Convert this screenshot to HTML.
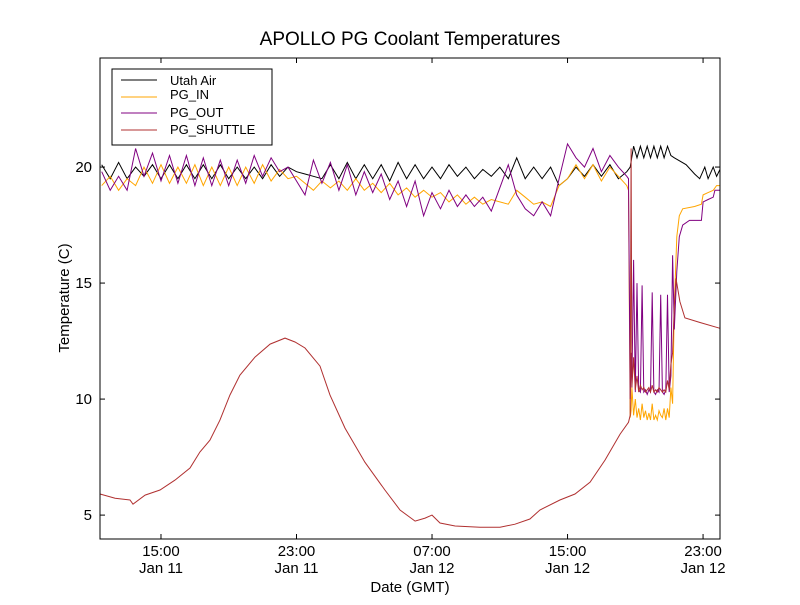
<!DOCTYPE html>
<html><head><meta charset="utf-8"><style>
body{margin:0;background:#fff;}
svg text{font-family:"Liberation Sans","DejaVu Sans",sans-serif;}
</style></head><body>
<svg id="chart" width="800" height="600" xmlns="http://www.w3.org/2000/svg">
<rect width="800" height="600" fill="#fff"/>
<text x="410" y="45" font-size="19" text-anchor="middle">APOLLO PG Coolant Temperatures</text>
<g id="plot"></g>
<rect x="100" y="58" width="620" height="481" fill="none" stroke="#000" stroke-width="1"/>
<g id="axes"></g>
<text x="410" y="592" font-size="15" text-anchor="middle">Date (GMT)</text>
<text x="69" y="298" font-size="15" text-anchor="middle" transform="rotate(-90 69 298)">Temperature (C)</text>
<g>
<rect x="112" y="69" width="160" height="76" fill="#fff" stroke="#000"/>
<line x1="121" y1="80" x2="157" y2="80" stroke="#000"/><text x="170" y="85" font-size="13">Utah Air</text>
<line x1="121" y1="97" x2="157" y2="97" stroke="#ffa500"/><text x="170" y="99" font-size="13">PG_IN</text>
<line x1="121" y1="113" x2="157" y2="113" stroke="#800080"/><text x="170" y="117" font-size="13">PG_OUT</text>
<line x1="121" y1="130" x2="157" y2="130" stroke="#b03030"/><text x="170" y="134" font-size="13">PG_SHUTTLE</text>
</g>
</svg>
<script>
const tOsc=[11.5,12,12.5,13,13.5,14,14.5,15,15.5,16,16.5,17,17.5,18,18.5,19,19.5,20,20.5,21,21.5,22,22.5,23,23.5,24,24.5,25,25.5,26,26.5,27,27.5,28,28.5,29,29.5,30,30.5,31,31.5,32,32.5,33,33.5,34,34.5,35,35.5,36,36.5,37,37.5,38,38.5,39,39.5,40,40.5,41,41.5,42,42.5];
const tChaos=[42.6,42.7,42.75,42.8,42.9,43.0,43.1,43.2,43.3,43.4,43.5,43.6,43.7,43.8,43.9,44.0,44.1,44.2,44.3,44.4,44.5,44.6,44.7,44.8,44.9,45.0,45.1,45.2];
const airOsc=[20.1,19.5,20.2,19.5,20.0,19.6,20.1,19.5,20.1,19.5,20.1,19.5,20.1,19.5,20.1,19.5,20.0,19.5,20.0,19.5,20.1,19.6,20.0,19.8,19.7,19.6,19.5,20.1,19.5,20.2,19.5,20.1,19.5,20.1,19.4,20.2,19.5,20.1,19.5,20.0,19.5,20.1,19.6,20.0,19.5,19.9,19.6,20.0,19.5,20.4,19.5,20.0,19.5,20.0,19.2,19.5,20.0,19.6,20.1,19.6,20.1,19.5,19.8];
const airTailT=[42.7,42.9,43.1,43.3,43.5,43.7,43.9,44.1,44.3,44.5,44.7,44.9,45.1,45.3,46.0,46.5,46.8,47.1,47.3,47.6,47.8,48.0];
const airTailV=[20.0,20.9,20.4,20.9,20.4,20.9,20.4,20.9,20.4,20.9,20.4,20.9,20.5,20.4,20.1,19.7,19.5,20.0,19.5,20.0,19.6,19.9];
const inOsc=[19.2,19.6,19.0,19.5,19.2,20.0,19.3,20.1,19.3,20.0,19.3,20.1,19.2,20.0,19.2,20.0,19.2,20.0,19.3,20.1,19.4,19.9,19.5,19.6,19.3,19.0,19.4,19.1,19.4,19.0,19.5,19.0,19.3,18.9,19.3,18.8,19.1,18.7,19.0,18.7,18.9,18.5,18.8,18.4,18.7,18.4,18.6,18.5,18.4,19.0,18.7,18.4,18.5,18.3,19.2,19.5,20.1,19.5,20.1,19.4,20.0,19.6,19.2];
const inChaos=[19.0,9.2,9.5,10.5,9.3,10.0,9.2,9.6,9.1,9.8,9.2,9.5,9.1,9.4,9.1,9.8,9.1,9.3,9.1,9.5,9.3,9.2,9.6,9.1,9.6,9.2,10.5,9.8];
const inTailT=[45.3,45.45,45.6,45.8,46.5,46.9,47.0,47.3,47.6,47.8,48.0];
const inTailV=[14.0,17.0,17.9,18.2,18.3,18.4,18.8,18.9,19.0,19.2,19.2];
const outOsc=[19.8,19.0,19.6,19.0,20.8,19.6,20.6,19.4,20.5,19.3,20.5,19.2,20.4,19.2,20.3,19.2,20.3,19.3,20.5,19.6,20.4,19.8,20.0,19.4,18.8,20.3,19.3,20.2,19.0,20.1,18.8,19.8,18.9,19.7,18.6,19.4,18.3,19.4,17.9,18.9,18.2,19.0,18.3,18.8,18.3,18.7,18.1,19.1,20.1,18.8,18.2,17.9,18.5,17.9,19.5,21.0,20.4,20.0,20.8,19.8,20.5,20.0,19.6];
const outChaos=[19.5,10.0,12.0,10.5,16.0,10.3,15.0,10.4,10.3,14.9,10.3,10.4,10.2,10.4,10.3,14.6,10.3,10.2,10.4,10.3,14.5,10.3,10.2,10.4,14.5,10.3,11.0,16.2];
const outTailT=[45.3,45.45,45.6,45.8,46.2,46.9,47.0,47.3,47.6,47.7,48.0];
const outTailV=[13.0,15.5,17.0,17.5,17.7,17.7,18.5,18.6,18.7,19.0,19.0];
const shutT=[11.4,12.29,13.17,13.35,14.06,14.94,15.83,16.71,17.3,17.89,18.48,19.07,19.66,20.55,21.44,22.32,22.91,23.5,24.39,24.98,25.86,27.04,28.22,29.11,30.0,30.59,31.0,31.47,32.36,33.83,35.01,35.9,36.78,37.37,38.55,39.44,40.33,41.21,42.1,42.6,42.7,42.75,42.8,42.9,43.0,43.1,43.2,43.3,43.4,43.5,43.6,43.7,43.8,43.9,44.0,44.1,44.2,44.3,44.4,44.5,44.6,44.7,44.8,44.9,45.0,45.1,45.2,45.3,45.4,45.63,45.93,46.82,48.0];
const shutV=[5.91,5.73,5.65,5.47,5.86,6.08,6.51,7.03,7.72,8.23,9.09,10.17,11.03,11.81,12.37,12.63,12.46,12.2,11.42,10.17,8.75,7.28,6.08,5.22,4.74,4.87,5.0,4.66,4.53,4.48,4.48,4.61,4.83,5.22,5.65,5.91,6.42,7.37,8.49,9.0,9.3,20.8,10.5,11.8,10.4,11.0,10.3,10.6,10.4,10.5,10.3,10.4,10.5,10.3,10.6,10.3,10.4,10.3,10.5,10.4,10.3,10.4,10.3,10.8,10.4,11.5,12.0,14.0,15.2,14.2,13.5,13.3,13.05];
const yTicks=[5,10,15,20];
const xTickHours=[15,23,31,39,47];
const xTickTimes=["15:00","23:00","07:00","15:00","23:00"];
const xTickDates=["Jan 11","Jan 11","Jan 12","Jan 12","Jan 12"];

const X0=100,X1=720,Y0=539,Y1=58,TMIN=11.4,TMAX=48.0,VMIN=3.97,VMAX=24.7;
function sx(t){return X0+(t-TMIN)/(TMAX-TMIN)*(X1-X0);}
function sy(v){return Y0-(v-VMIN)/(VMAX-VMIN)*(Y0-Y1);}
const NS="http://www.w3.org/2000/svg";
const plot=document.getElementById('plot');
function line(ts,vs,color,name){
  const p=document.createElementNS(NS,'path');
  let d='';
  for(let i=0;i<ts.length;i++){d+=(i?'L':'M')+sx(ts[i]).toFixed(1)+' '+sy(vs[i]).toFixed(1);}
  p.setAttribute('d',d);p.setAttribute('fill','none');p.setAttribute('stroke',color);p.setAttribute('stroke-width','1');
  
  
  plot.appendChild(p);
}
line(tOsc.concat(airTailT),airOsc.concat(airTailV),'#000','utah-air-line');
line(tOsc.concat(tChaos,inTailT),inOsc.concat(inChaos,inTailV),'#ffa500','pg-in-line');
line(tOsc.concat(tChaos,outTailT),outOsc.concat(outChaos,outTailV),'#800080','pg-out-line');
line(shutT,shutV,'#b03030','pg-shuttle-line');
const axes=document.getElementById('axes');
function el(tag,attrs){const e=document.createElementNS(NS,tag);for(const k in attrs)e.setAttribute(k,attrs[k]);axes.appendChild(e);return e;}
yTicks.forEach(v=>{
  const y=sy(v);
  el('line',{x1:X0,y1:y,x2:X0+5,y2:y,stroke:'#000'});
  el('line',{x1:X1-5,y1:y,x2:X1,y2:y,stroke:'#000'});
  const t=el('text',{x:X0-8,y:y+5,'font-size':15,'text-anchor':'end'});t.textContent=v;
  
  
});
xTickHours.forEach((h,i)=>{
  const x=sx(h);
  el('line',{x1:x,y1:Y0,x2:x,y2:Y0-5,stroke:'#000'});
  el('line',{x1:x,y1:Y1,x2:x,y2:Y1+5,stroke:'#000'});
  const t=el('text',{x:x,y:556,'font-size':15,'text-anchor':'middle'});t.textContent=xTickTimes[i];
  
  
  const d=el('text',{x:x,y:573,'font-size':15,'text-anchor':'middle'});d.textContent=xTickDates[i];
  
  
});
</script>
</body></html>
